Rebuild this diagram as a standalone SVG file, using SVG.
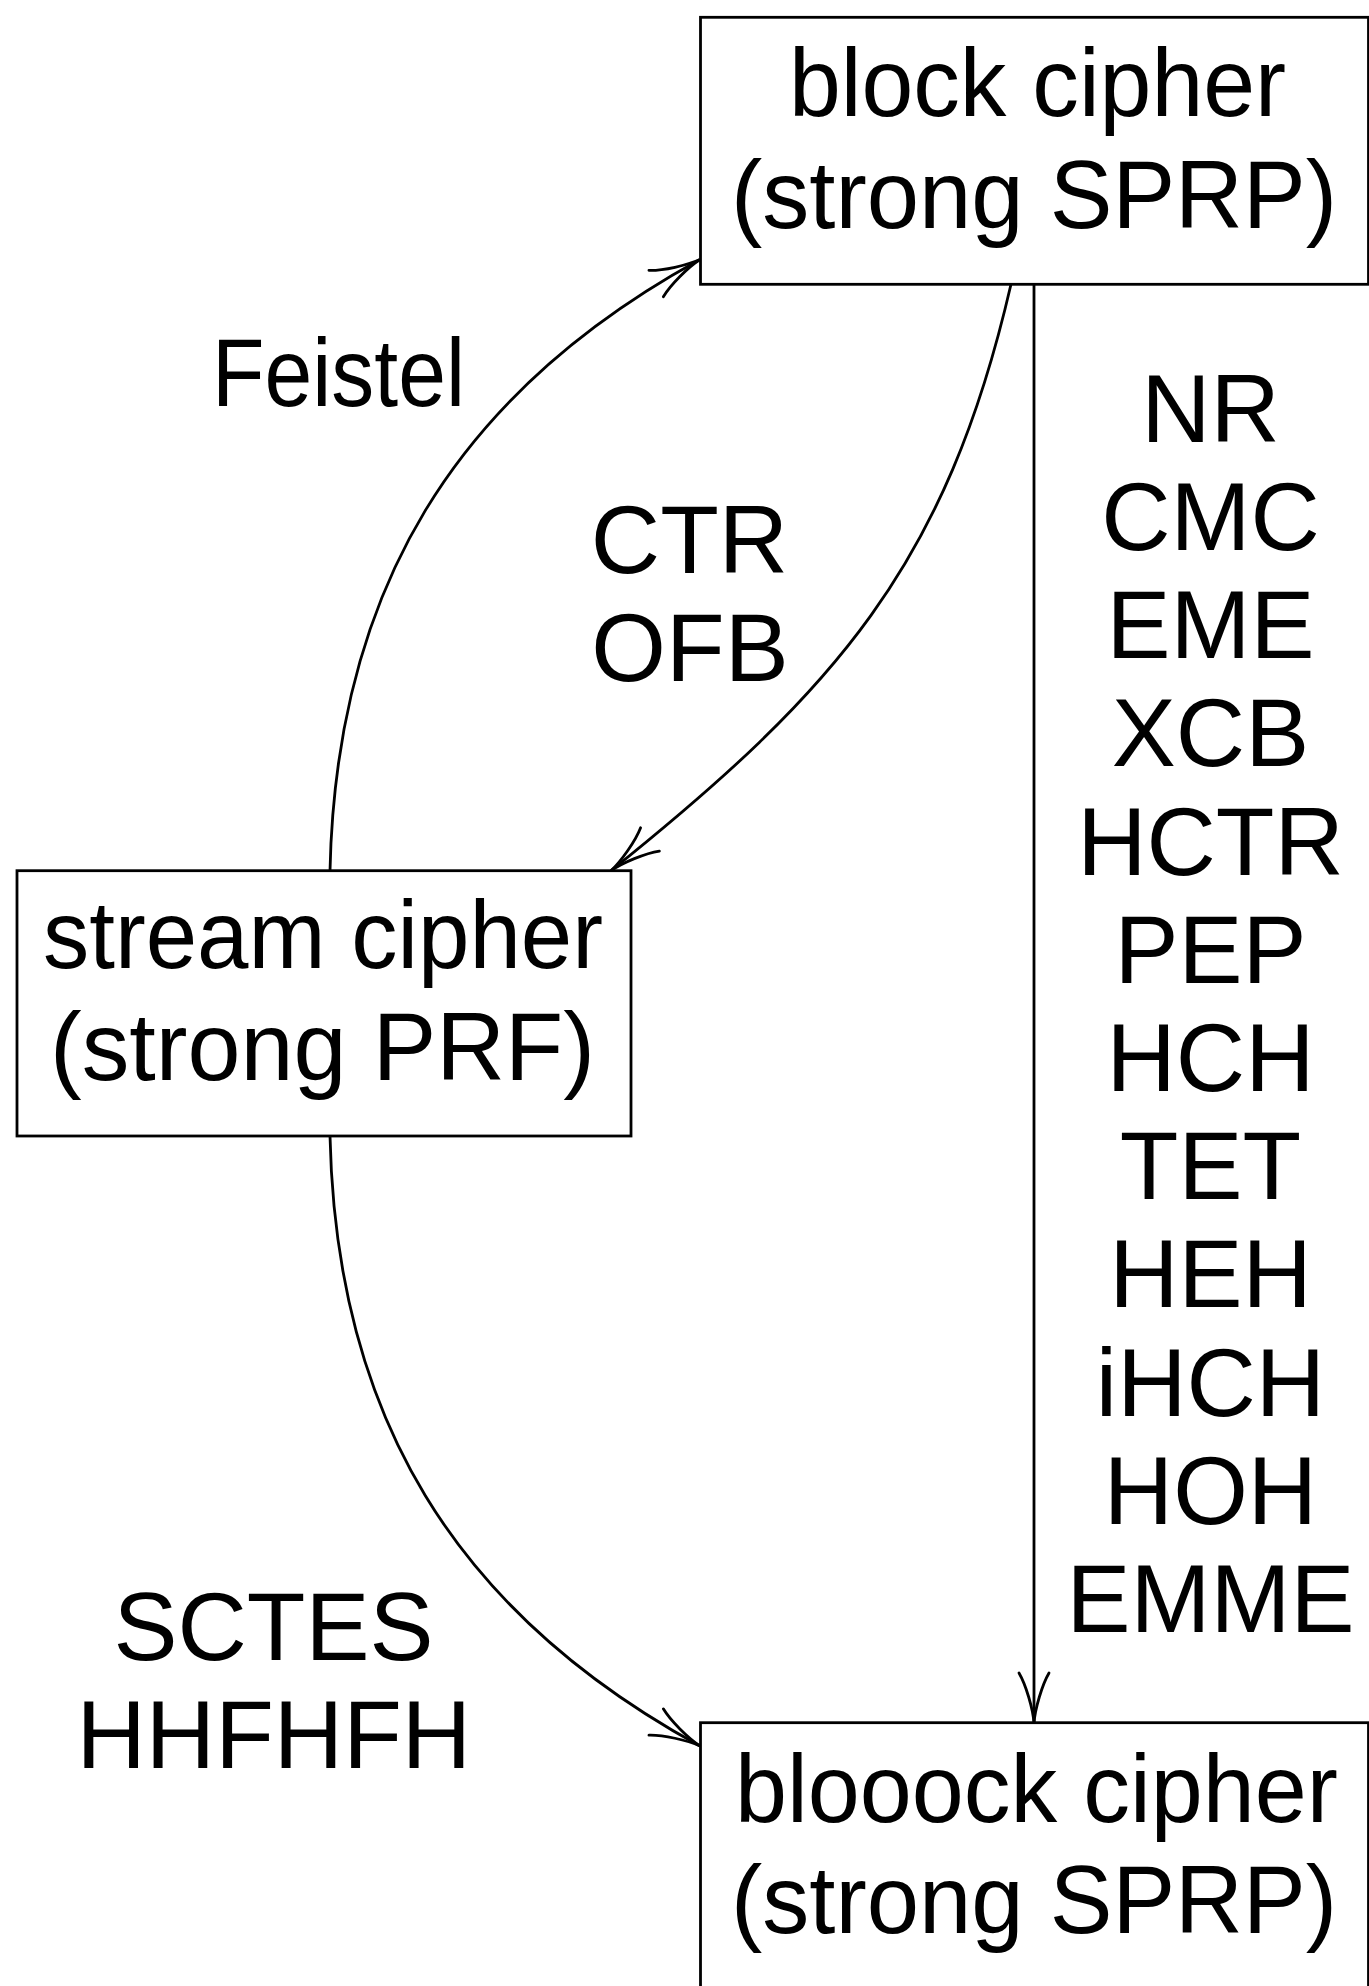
<svg xmlns="http://www.w3.org/2000/svg" width="1369" height="1986" viewBox="0 0 1369 1986">
  <style>
    .box { fill: #ffffff; stroke: #000000; stroke-width: 2.8; }
    .edge { fill: none; stroke: #000000; stroke-width: 2.8; }
    .t { font-family: "Liberation Sans", Arial, sans-serif; font-size: 96px; fill: #000000; text-anchor: middle; }
  </style>
  <defs>
    <marker id="to" markerUnits="userSpaceOnUse" orient="auto" viewBox="-60 -25 70 50" refX="0" refY="0" markerWidth="70" markerHeight="50" overflow="visible">
      <path d="M -50,-15 C -38,-8 -14,-1 0,0 C -14,1 -38,8 -50,15" fill="none" stroke="#000000" stroke-width="2.8" stroke-linecap="round"/>
    </marker>
  </defs>
  <rect width="1369" height="1986" fill="#ffffff"/>

  <g id="connectors">
    <path id="e-feistel" class="edge" d="M 330,870.7 C 336,590.5 455,393.7 700,259.5" marker-end="url(#to)"/>
    <path id="e-ctr" class="edge" d="M 1011,284.3 C 946,566 836,690 611,870.7" marker-end="url(#to)"/>
    <path id="e-sctes" class="edge" d="M 330,1136 C 336,1416 455,1612 700,1746" marker-end="url(#to)"/>
    <path id="e-nr" class="edge" d="M 1034,284.3 L 1034,1723" marker-end="url(#to)"/>
    <text class="t" x="338.5" y="406" textLength="253" lengthAdjust="spacingAndGlyphs">Feistel</text>
    <text class="t" x="689.5" y="572.7">CTR</text>
    <text class="t" x="690" y="681">OFB</text>
    <text class="t" x="273.5" y="1660">SCTES</text>
    <text class="t" x="273.8" y="1768.3">HHFHFH</text>
    <text class="t" x="1210.5" y="441.7">NR</text>
    <text class="t" x="1210.5" y="549.9">CMC</text>
    <text class="t" x="1210.5" y="658.1">EME</text>
    <text class="t" x="1210.5" y="766.3">XCB</text>
    <text class="t" x="1210.5" y="874.5">HCTR</text>
    <text class="t" x="1210.5" y="982.7">PEP</text>
    <text class="t" x="1210.5" y="1090.9">HCH</text>
    <text class="t" x="1210.5" y="1199.1">TET</text>
    <text class="t" x="1210.5" y="1307.3">HEH</text>
    <text class="t" x="1210.5" y="1415.5">iHCH</text>
    <text class="t" x="1210.5" y="1523.7">HOH</text>
    <text class="t" x="1210.5" y="1631.9">EMME</text>
  </g>

  <g id="block">
    <rect class="box" x="700.5" y="17.3" width="668" height="267"/>
    <text class="t" x="1037.5" y="116" textLength="497" lengthAdjust="spacingAndGlyphs">block cipher</text>
    <text class="t" x="1034" y="228.3" textLength="606" lengthAdjust="spacingAndGlyphs">(strong SPRP)</text>
  </g>

  <g id="stream">
    <rect class="box" x="17" y="870.7" width="614" height="265.3"/>
    <text class="t" x="323" y="967.7" textLength="560" lengthAdjust="spacingAndGlyphs">stream cipher</text>
    <text class="t" x="322.5" y="1080" textLength="545" lengthAdjust="spacingAndGlyphs">(strong PRF)</text>
  </g>

  <g id="blooock">
    <rect class="box" x="700.5" y="1722.7" width="668" height="270"/>
    <text class="t" x="1036.5" y="1821.7" textLength="603" lengthAdjust="spacingAndGlyphs">blooock cipher</text>
    <text class="t" x="1034" y="1933" textLength="606" lengthAdjust="spacingAndGlyphs">(strong SPRP)</text>
  </g>
</svg>
